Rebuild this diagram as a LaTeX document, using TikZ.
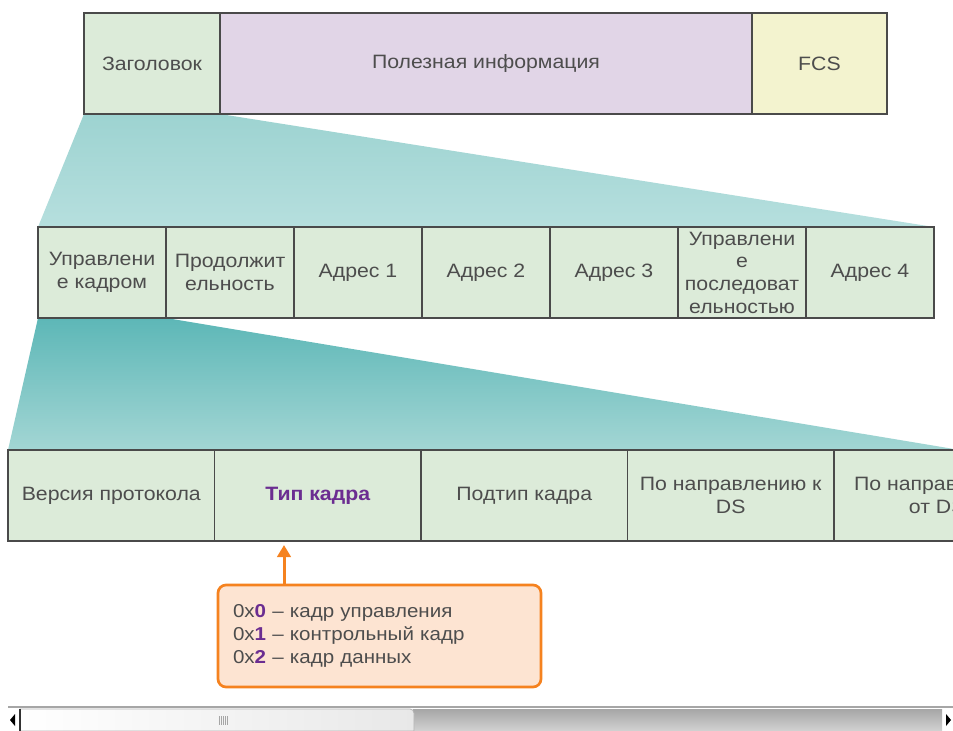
\documentclass[tikz,border=0pt]{standalone}
\usepackage{fontspec}
\setmainfont{Liberation Sans}[FakeStretch=1.1]
\usetikzlibrary{arrows.meta,backgrounds}
\definecolor{cellgreen}{HTML}{DCEBD9}
\definecolor{celllav}{HTML}{E1D5E7}
\definecolor{cellyel}{HTML}{F3F3CF}
\definecolor{edgegray}{HTML}{4A4A4A}
\definecolor{txtgray}{HTML}{4D4D4D}
\definecolor{purp}{HTML}{6B2D91}
\definecolor{tealA}{HTML}{9DD3D1}
\definecolor{tealB}{HTML}{B6DFDE}
\definecolor{tealC}{HTML}{5DB7B7}
\definecolor{tealD}{HTML}{A3D6D4}
\definecolor{orng}{HTML}{F5821F}
\definecolor{peach}{HTML}{FDE4D2}
\begin{document}
\begin{tikzpicture}[x=0.75pt,y=-0.75pt,
  cell/.style={draw=edgegray, line width=1pt, inner sep=0pt, outer sep=0pt,
    text=txtgray, font=\fontsize{14.5}{17}\selectfont, align=center, fill=cellgreen},
  topcell/.style={cell, minimum height=75.75pt},
  midcell/.style={cell, minimum width=96pt, minimum height=68.25pt},
  botcell/.style={cell, minimum width=154.875pt, minimum height=68.25pt},
  frameline/.style={draw=edgegray, line width=2pt},
  callout/.style={draw=orng, line width=2pt, fill=peach, rounded corners=6pt,
    inner xsep=11.25pt, inner ysep=0pt, text width=219.75pt, align=left,
    minimum height=76.5pt, text=txtgray, font=\fontsize{14}{17}\selectfont},
  orangearrow/.style={draw=orng, line width=2.25pt, -{Triangle[width=10pt,length=9pt]}, shorten >=3pt}
]
\useasboundingbox (0,0) rectangle (953,731);
\clip (0,0) rectangle (953,731);

% top frame
\node[topcell, minimum width=102pt] (hdr) at (152,63.5) {Заголовок};
\node[topcell, minimum width=399pt, fill=celllav] (pay) at (486,63.5) {Полезная информация};
\node[topcell, minimum width=101.25pt, fill=cellyel] (fcs) at (819.5,63.5) {FCS};
\draw[frameline] (hdr.north west) rectangle (fcs.south east);

% middle row
\node[midcell] (m1) at (102,272.5) {Управлени\\е кадром};
\node[midcell] (m2) at (230,272.5) {Продолжит\\ельность};
\node[midcell] (m3) at (358,272.5) {Адрес 1};
\node[midcell] (m4) at (486,272.5) {Адрес 2};
\node[midcell] (m5) at (614,272.5) {Адрес 3};
\node[midcell] (m6) at (742,272.5) {Управлени\\е\\последоват\\ельностью};
\node[midcell] (m7) at (870,272.5) {Адрес 4};
\draw[draw=edgegray, line width=1.5pt] (m1.north west) rectangle (m7.south east);

% bottom row
\node[botcell] (b1) at (111.25,495.5) {Версия протокола};
\node[botcell, text=purp, font=\fontsize{14.5}{17}\selectfont\bfseries] (b2) at (317.75,495.5) {Тип кадра};
\node[botcell] (b3) at (524.25,495.5) {Подтип кадра};
\node[botcell] (b4) at (730.75,495.5) {По направлению к\\DS};
\node[botcell] (b5) at (937.25,495.5) {По направлению\\от DS};
\draw[draw=edgegray, line width=1.5pt] (b1.north west) rectangle (b5.south east);

% zoom wedges
\coordinate (wedgeR) at (960,450);
\begin{scope}[on background layer]
  \shade[top color=tealA, bottom color=tealB]
    (hdr.south west) -- (hdr.south east) -- (m7.north east) -- (m1.north west) -- cycle;
  \shade[top color=tealC, bottom color=tealD]
    (m1.south west) -- (m1.south east) -- (wedgeR) -- (b1.north west) -- cycle;
\end{scope}

% callout
\node[callout] (info) at (379.5,636) {0x\textbf{\color{purp}0} – кадр управления\\
0x\textbf{\color{purp}1} – контрольный кадр\\
0x\textbf{\color{purp}2} – кадр данных};
\coordinate (abase) at (284,585);
\draw[orangearrow] (abase) -- (abase |- b2.south);

% scrollbar
\fill[white] (8,707) rectangle (953,731);
\draw[gray!70, line width=1pt] (8,707) -- (953,707);
\shade[top color=gray!70, bottom color=gray!35] (413,709) rectangle (942,731);
\shade[left color=white, right color=gray!18, draw=gray!60, line width=0.6pt]
  (20,709) -- (410,709) to[out=0,in=90] (414,713) -- (414,731) -- (20,731) -- cycle;
\draw[black!80, line width=1pt] (20,709) -- (20,731);
\fill[black] (10,720) -- (15,714) -- (15,726) -- cycle;
\fill[black] (951,720) -- (946,714) -- (946,726) -- cycle;
\foreach \gx in {219.5,221.5,223.5,225.5,227.5}
  \draw[gray!70, line width=0.6pt] (\gx,716) -- (\gx,725);
\end{tikzpicture}
\end{document}
